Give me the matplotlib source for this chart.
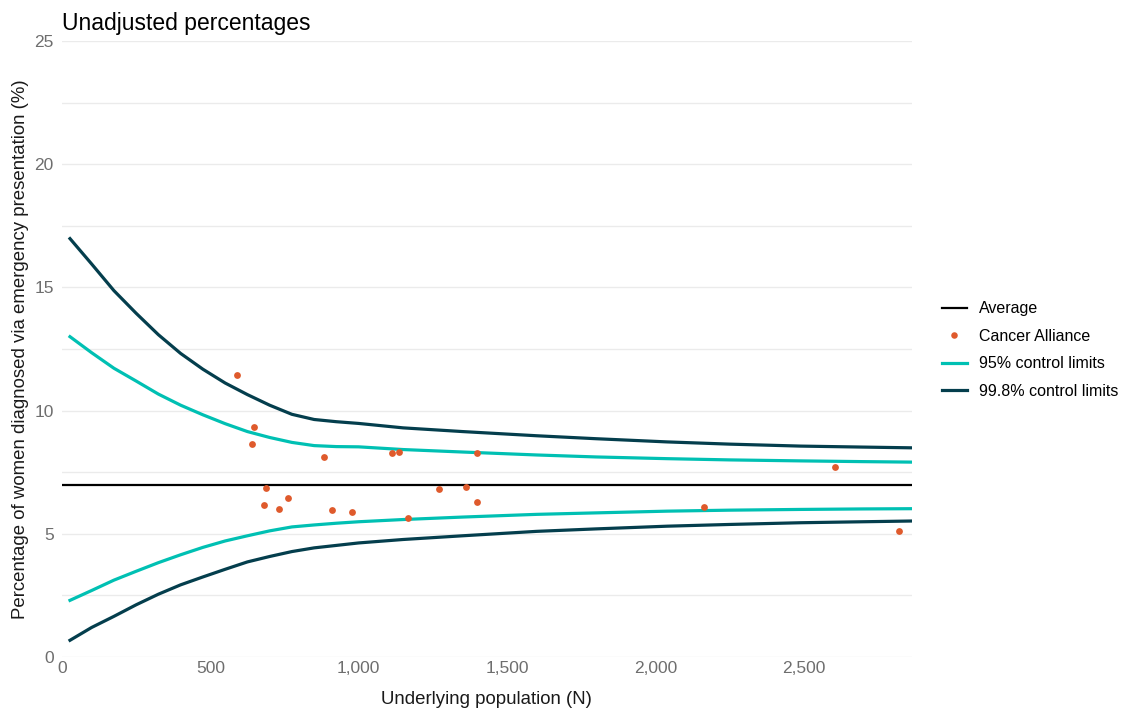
import numpy as np
import matplotlib.pyplot as plt
from matplotlib.lines import Line2D

plt.rcParams['font.family'] = ['Liberation Sans', 'DejaVu Sans']

# Cancer Alliance points (population, % emergency presentation)
alliance_n = [590, 647, 641, 688, 681, 732, 762, 883, 910, 978,
              1113, 1136, 1167, 1271, 1362, 1399, 1399, 2165, 2606, 2822]
alliance_pct = [11.44, 9.33, 8.64, 6.86, 6.17, 6.00, 6.45, 8.11, 5.96, 5.88,
                8.28, 8.32, 5.64, 6.82, 6.90, 6.29, 8.28, 6.09, 7.71, 5.11]

average = 7.0

# control limits
limit_n = [27, 100, 175, 250, 325, 400, 475, 550, 625, 700, 775, 850, 925, 1000,
           1150, 1350, 1600, 1800, 2040, 2250, 2490, 2700, 2865]
upper_998 = [16.98, 15.95, 14.87, 13.95, 13.08, 12.32, 11.68, 11.12, 10.65, 10.22, 9.85, 9.64,
             9.55, 9.48, 9.30, 9.15, 8.98, 8.86, 8.73, 8.64, 8.56, 8.52, 8.49]
upper_95 = [13.0, 12.35, 11.72, 11.20, 10.67, 10.22, 9.83, 9.47, 9.15, 8.91, 8.71, 8.58,
            8.54, 8.53, 8.42, 8.32, 8.20, 8.12, 8.05, 8.00, 7.96, 7.93, 7.91]
lower_95 = [2.30, 2.70, 3.12, 3.48, 3.83, 4.15, 4.45, 4.71, 4.92, 5.12, 5.28, 5.36,
            5.43, 5.49, 5.58, 5.68, 5.79, 5.85, 5.92, 5.96, 5.99, 6.01, 6.02]
lower_998 = [0.68, 1.20, 1.65, 2.12, 2.55, 2.93, 3.25, 3.56, 3.86, 4.08, 4.28, 4.43,
             4.53, 4.63, 4.77, 4.92, 5.10, 5.20, 5.31, 5.38, 5.45, 5.49, 5.52]

teal = '#00C0B3'
dark = '#043E4D'
orange = '#DF5A2C'

fig = plt.figure(figsize=(11.23, 7.13), dpi=100)
ax = fig.add_axes([0.0552, 0.0785, 0.7568, 0.864])

ax.axhline(average, color='black', lw=1.6, zorder=3)
ax.plot(limit_n, upper_998, color=dark, lw=2.3, zorder=2)
ax.plot(limit_n, lower_998, color=dark, lw=2.3, zorder=2)
ax.plot(limit_n, upper_95, color=teal, lw=2.3, zorder=2)
ax.plot(limit_n, lower_95, color=teal, lw=2.3, zorder=2)
ax.scatter(alliance_n, alliance_pct, s=24, color=orange, zorder=4, linewidths=0)

ax.set_xlim(0, 2865)
ax.set_ylim(0, 25)
ax.set_xticks([0, 500, 1000, 1500, 2000, 2500])
ax.set_xticklabels(['0', '500', '1,000', '1,500', '2,000', '2,500'])
ax.set_yticks([0, 5, 10, 15, 20, 25])
ax.set_yticks(np.arange(2.5, 25, 5), minor=True)
ax.grid(axis='y', which='both', color='#EBEBEB', lw=1.0)
ax.set_axisbelow(True)
for s in ax.spines.values():
    s.set_visible(False)
ax.tick_params(which='both', length=0, labelsize=12.5, labelcolor='#6E6E6E')
ax.tick_params(axis='y', pad=6)
ax.tick_params(axis='x', pad=3)

ax.set_xlabel('Underlying population (N)', fontsize=13.4, color='#1A1A1A', labelpad=11)
ax.set_ylabel('Percentage of women diagnosed via emergency presentation (%)',
              fontsize=13.4, color='#1A1A1A', labelpad=4)
ax.set_title('Unadjusted percentages', loc='left', fontsize=16.5, pad=8)

handles = [
    Line2D([], [], color='black', lw=1.6),
    Line2D([], [], color=orange, marker='o', ls='none', markersize=4.7, markeredgewidth=0),
    Line2D([], [], color=teal, lw=2.3),
    Line2D([], [], color=dark, lw=2.3),
]
labels = ['Average', 'Cancer Alliance', '95% control limits', '99.8% control limits']
fig.legend(handles, labels, loc='center left', bbox_to_anchor=(0.826, 0.509),
           frameon=False, fontsize=11.5, handlelength=1.55, labelspacing=0.78,
           handletextpad=0.75)

fig.savefig('out.png', dpi=100)
